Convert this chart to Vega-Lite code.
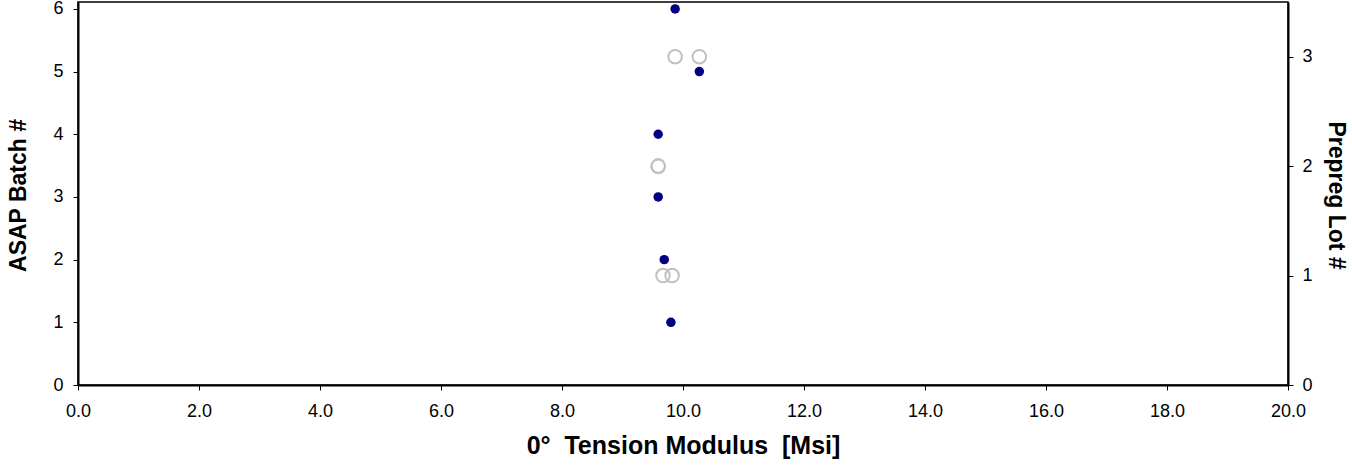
{
  "$schema": "https://vega.github.io/schema/vega-lite/v6.json",
  "autosize": "none",
  "width": 1210,
  "height": 383,
  "padding": {"left": 78, "top": 2, "right": 64, "bottom": 90},
  "background": "white",
  "config": {
    "view": {"stroke": "#000", "strokeWidth": 1.5},
    "font": "Liberation Sans",
    "axis": {
      "labelFont": "Liberation Sans",
      "titleFont": "Liberation Sans",
      "labelFontSize": 18,
      "labelColor": "#000",
      "titleColor": "#000",
      "domainColor": "#000",
      "domainWidth": 2,
      "tickColor": "#000",
      "tickWidth": 1,
      "tickSize": 5,
      "grid": false,
      "labelFlush": false,
      "labelOverlap": false,
      "titleFontWeight": "bold"
    }
  },
  "datasets": {
    "batches": [
      {"batch": 1, "modulus": 9.80},
      {"batch": 2, "modulus": 9.69},
      {"batch": 3, "modulus": 9.59},
      {"batch": 4, "modulus": 9.59},
      {"batch": 5, "modulus": 10.27},
      {"batch": 6, "modulus": 9.87}
    ],
    "lots": [
      {"lot": 1, "modulus": 9.67},
      {"lot": 1, "modulus": 9.82},
      {"lot": 2, "modulus": 9.59},
      {"lot": 2, "modulus": 9.59},
      {"lot": 3, "modulus": 9.87},
      {"lot": 3, "modulus": 10.27}
    ]
  },
  "layer": [
    {
      "data": {"name": "lots"},
      "mark": {"type": "point", "shape": "circle", "filled": false, "stroke": "#c0c0c0", "strokeWidth": 2, "size": 185, "opacity": 1},
      "encoding": {
        "x": {
          "field": "modulus", "type": "quantitative",
          "scale": {"domain": [0, 20], "nice": false, "zero": true},
          "axis": {
            "values": [0, 2, 4, 6, 8, 10, 12, 14, 16, 18, 20],
            "format": ".1f",
            "labelPadding": 12,
            "title": "0°\u00a0 Tension Modulus\u00a0 [Msi]",
            "titleFontSize": 25,
            "titleX": 605,
            "titleY": 68,
            "titleBaseline": "alphabetic",
            "titleAlign": "center"
          }
        },
        "y": {
          "field": "lot", "type": "quantitative",
          "scale": {"domain": [0, 3.5], "nice": false},
          "axis": {
            "orient": "right",
            "values": [0, 1, 2, 3],
            "labelPadding": 9,
            "title": "Prepreg Lot #",
            "titleFontSize": 23,
            "titleAngle": 90,
            "titleX": 47,
            "titleY": 193,
            "titleAlign": "center",
            "titleBaseline": "middle"
          }
        }
      }
    },
    {
      "data": {"name": "batches"},
      "mark": {"type": "point", "shape": "circle", "filled": true, "color": "#000080", "size": 90, "opacity": 1},
      "encoding": {
        "x": {"field": "modulus", "type": "quantitative"},
        "y": {
          "field": "batch", "type": "quantitative",
          "scale": {"domain": [0, 6.11], "nice": false},
          "axis": {
            "orient": "left",
            "values": [0, 1, 2, 3, 4, 5, 6],
            "labelPadding": 10,
            "title": "ASAP Batch #",
            "titleFontSize": 23,
            "titleAngle": -90,
            "titleX": -60,
            "titleY": 193,
            "titleAlign": "center",
            "titleBaseline": "middle"
          }
        }
      }
    }
  ],
  "resolve": {"scale": {"y": "independent"}, "axis": {"y": "independent"}}
}
